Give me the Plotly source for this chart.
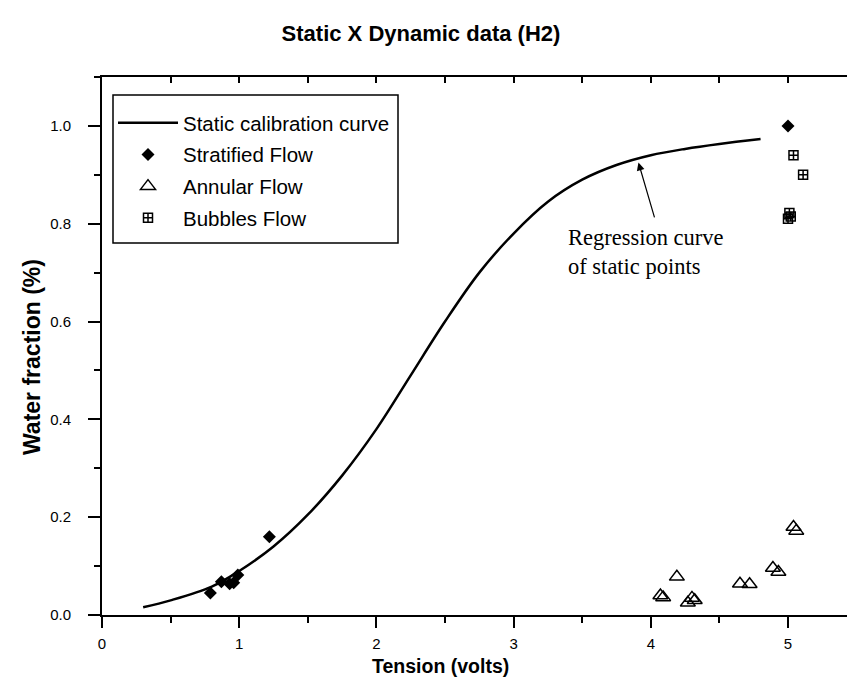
import plotly.graph_objects as go

# Static calibration curve (regression of static points)
curve_x = [0.30, 0.50, 0.80, 1.00, 1.25, 1.50, 1.75, 2.00, 2.25, 2.50, 2.75,
           3.00, 3.25, 3.50, 3.75, 4.00, 4.25, 4.50, 4.80]
curve_y = [0.016, 0.030, 0.058, 0.090, 0.140, 0.205, 0.285, 0.380, 0.490, 0.600,
           0.700, 0.780, 0.845, 0.890, 0.920, 0.940, 0.953, 0.963, 0.973]

# Stratified flow
strat_x = [0.79, 0.87, 0.93, 0.96, 0.99, 1.22, 5.00]
strat_y = [0.045, 0.068, 0.064, 0.066, 0.082, 0.160, 1.000]

# Annular flow
ann_x = [4.07, 4.09, 4.19, 4.27, 4.30, 4.32, 4.65, 4.72, 4.89, 4.93, 5.04, 5.06]
ann_y = [0.040, 0.036, 0.078, 0.025, 0.035, 0.030, 0.064, 0.063, 0.096, 0.088, 0.180, 0.172]

# Bubbles flow
bub_x = [5.04, 5.11, 5.00, 5.01, 5.02]
bub_y = [0.940, 0.900, 0.810, 0.822, 0.815]

y_ticks = [0.0, 0.2, 0.4, 0.6, 0.8, 1.0]
x_ticks = [0, 1, 2, 3, 4, 5]

FONT = "Liberation Sans, Arial, sans-serif"
SERIF = "Liberation Serif, Times New Roman, serif"

# plot area in pixels
L, R, T, B = 102, 847, 77, 615
PW, PH = R - L, B - T


def px_x(p):
    return (p - L) / PW


def px_y(p):
    return (B - p) / PH


fig = go.Figure()
fig.add_trace(go.Scatter(x=curve_x, y=curve_y, mode="lines", name="Static calibration curve",
                         line=dict(color="black", width=2.5, shape="spline"), legendgroup="a"))
fig.add_trace(go.Scatter(x=strat_x, y=strat_y, mode="markers", name="Stratified Flow",
                         marker=dict(symbol="diamond", size=10, color="black"), legendgroup="b"))
fig.add_trace(go.Scatter(x=ann_x, y=ann_y, mode="markers", name="Annular Flow",
                         marker=dict(symbol="triangle-up-open", size=13, color="black",
                                     line=dict(width=1.5, color="black")), legendgroup="c"))
fig.add_trace(go.Scatter(x=bub_x, y=bub_y, mode="markers", name="Bubbles Flow",
                         marker=dict(symbol="square-cross-open", size=9, color="black",
                                     line=dict(width=1.5, color="black")), legendgroup="d"))

# invisible trace to activate top axis
fig.add_trace(go.Scatter(x=[None], y=[None], xaxis="x2", showlegend=False, hoverinfo="skip"))

fig.update_layout(
    width=847, height=687,
    margin=dict(l=L, r=0, t=T, b=687 - B),
    paper_bgcolor="white", plot_bgcolor="white",
    font=dict(family=FONT, color="black"),
    title=dict(text="<b>Static X Dynamic data (H2)</b>", x=0.497, xanchor="center",
               y=1 - 33 / 687, yanchor="middle", font=dict(size=22, family=FONT)),
    xaxis=dict(range=[0, 5.43], tickvals=x_ticks, ticks="outside", ticklen=11, tickwidth=2,
               tickcolor="black", showline=True, linewidth=2, linecolor="black",
               showgrid=False, zeroline=False, tickfont=dict(size=15, family=FONT),
               ticklabelstandoff=3,
               minor=dict(dtick=0.5, tick0=0, ticks="outside", ticklen=6, tickwidth=2,
                          tickcolor="black")),
    xaxis2=dict(range=[0, 5.43], overlaying="x", side="top", dtick=0.5, tick0=0,
                ticks="inside", ticklen=6, tickwidth=1.5, tickcolor="black",
                showticklabels=False, showline=True, linewidth=2, linecolor="black",
                showgrid=False, zeroline=False),
    yaxis=dict(range=[0, 1.1], tickvals=y_ticks, tickformat=".1f", ticks="outside",
               ticklen=12, tickwidth=2, tickcolor="black", showline=True, linewidth=2,
               linecolor="black", showgrid=False, zeroline=False,
               tickfont=dict(size=15, family=FONT), ticklabelstandoff=14,
               minor=dict(dtick=0.1, tick0=0, ticks="outside", ticklen=6, tickwidth=2,
                          tickcolor="black")),
    legend=dict(x=px_x(113), y=px_y(103), xanchor="left", yanchor="top",
                bgcolor="rgba(0,0,0,0)", borderwidth=0,
                font=dict(size=20.5, family=FONT), tracegroupgap=2, itemwidth=60),
    showlegend=True,
)

# legend frame
fig.add_shape(type="rect", xref="paper", yref="paper", x0=px_x(113), x1=px_x(398),
              y0=px_y(243), y1=px_y(95), line=dict(color="black", width=1.5),
              fillcolor="white", layer="above")

# axis titles as annotations
fig.add_annotation(text="<b>Tension (volts)</b>", xref="paper", yref="paper",
                   x=px_x(440), y=px_y(666), xanchor="center",
                   yanchor="middle", showarrow=False, font=dict(size=19.5, family=FONT))
fig.add_annotation(text="<b>Water fraction (%)</b>", xref="paper", yref="paper",
                   x=px_x(32), y=px_y(357), xanchor="center",
                   yanchor="middle", textangle=-90, showarrow=False,
                   font=dict(size=23, family=FONT))

# regression note and arrow
fig.add_annotation(text="Regression curve<br>of static points", x=3.38, y=0.742,
                   xref="x", yref="y", xanchor="left", yanchor="middle", align="left",
                   showarrow=False, font=dict(size=22.5, family=SERIF))
fig.add_annotation(x=3.91, y=0.925, ax=4.03, ay=0.81, xref="x", yref="y",
                   axref="x", ayref="y", text="", showarrow=True, arrowhead=2,
                   arrowsize=1.3, arrowwidth=1.2, arrowcolor="black")

fig.write_html("out.html")
